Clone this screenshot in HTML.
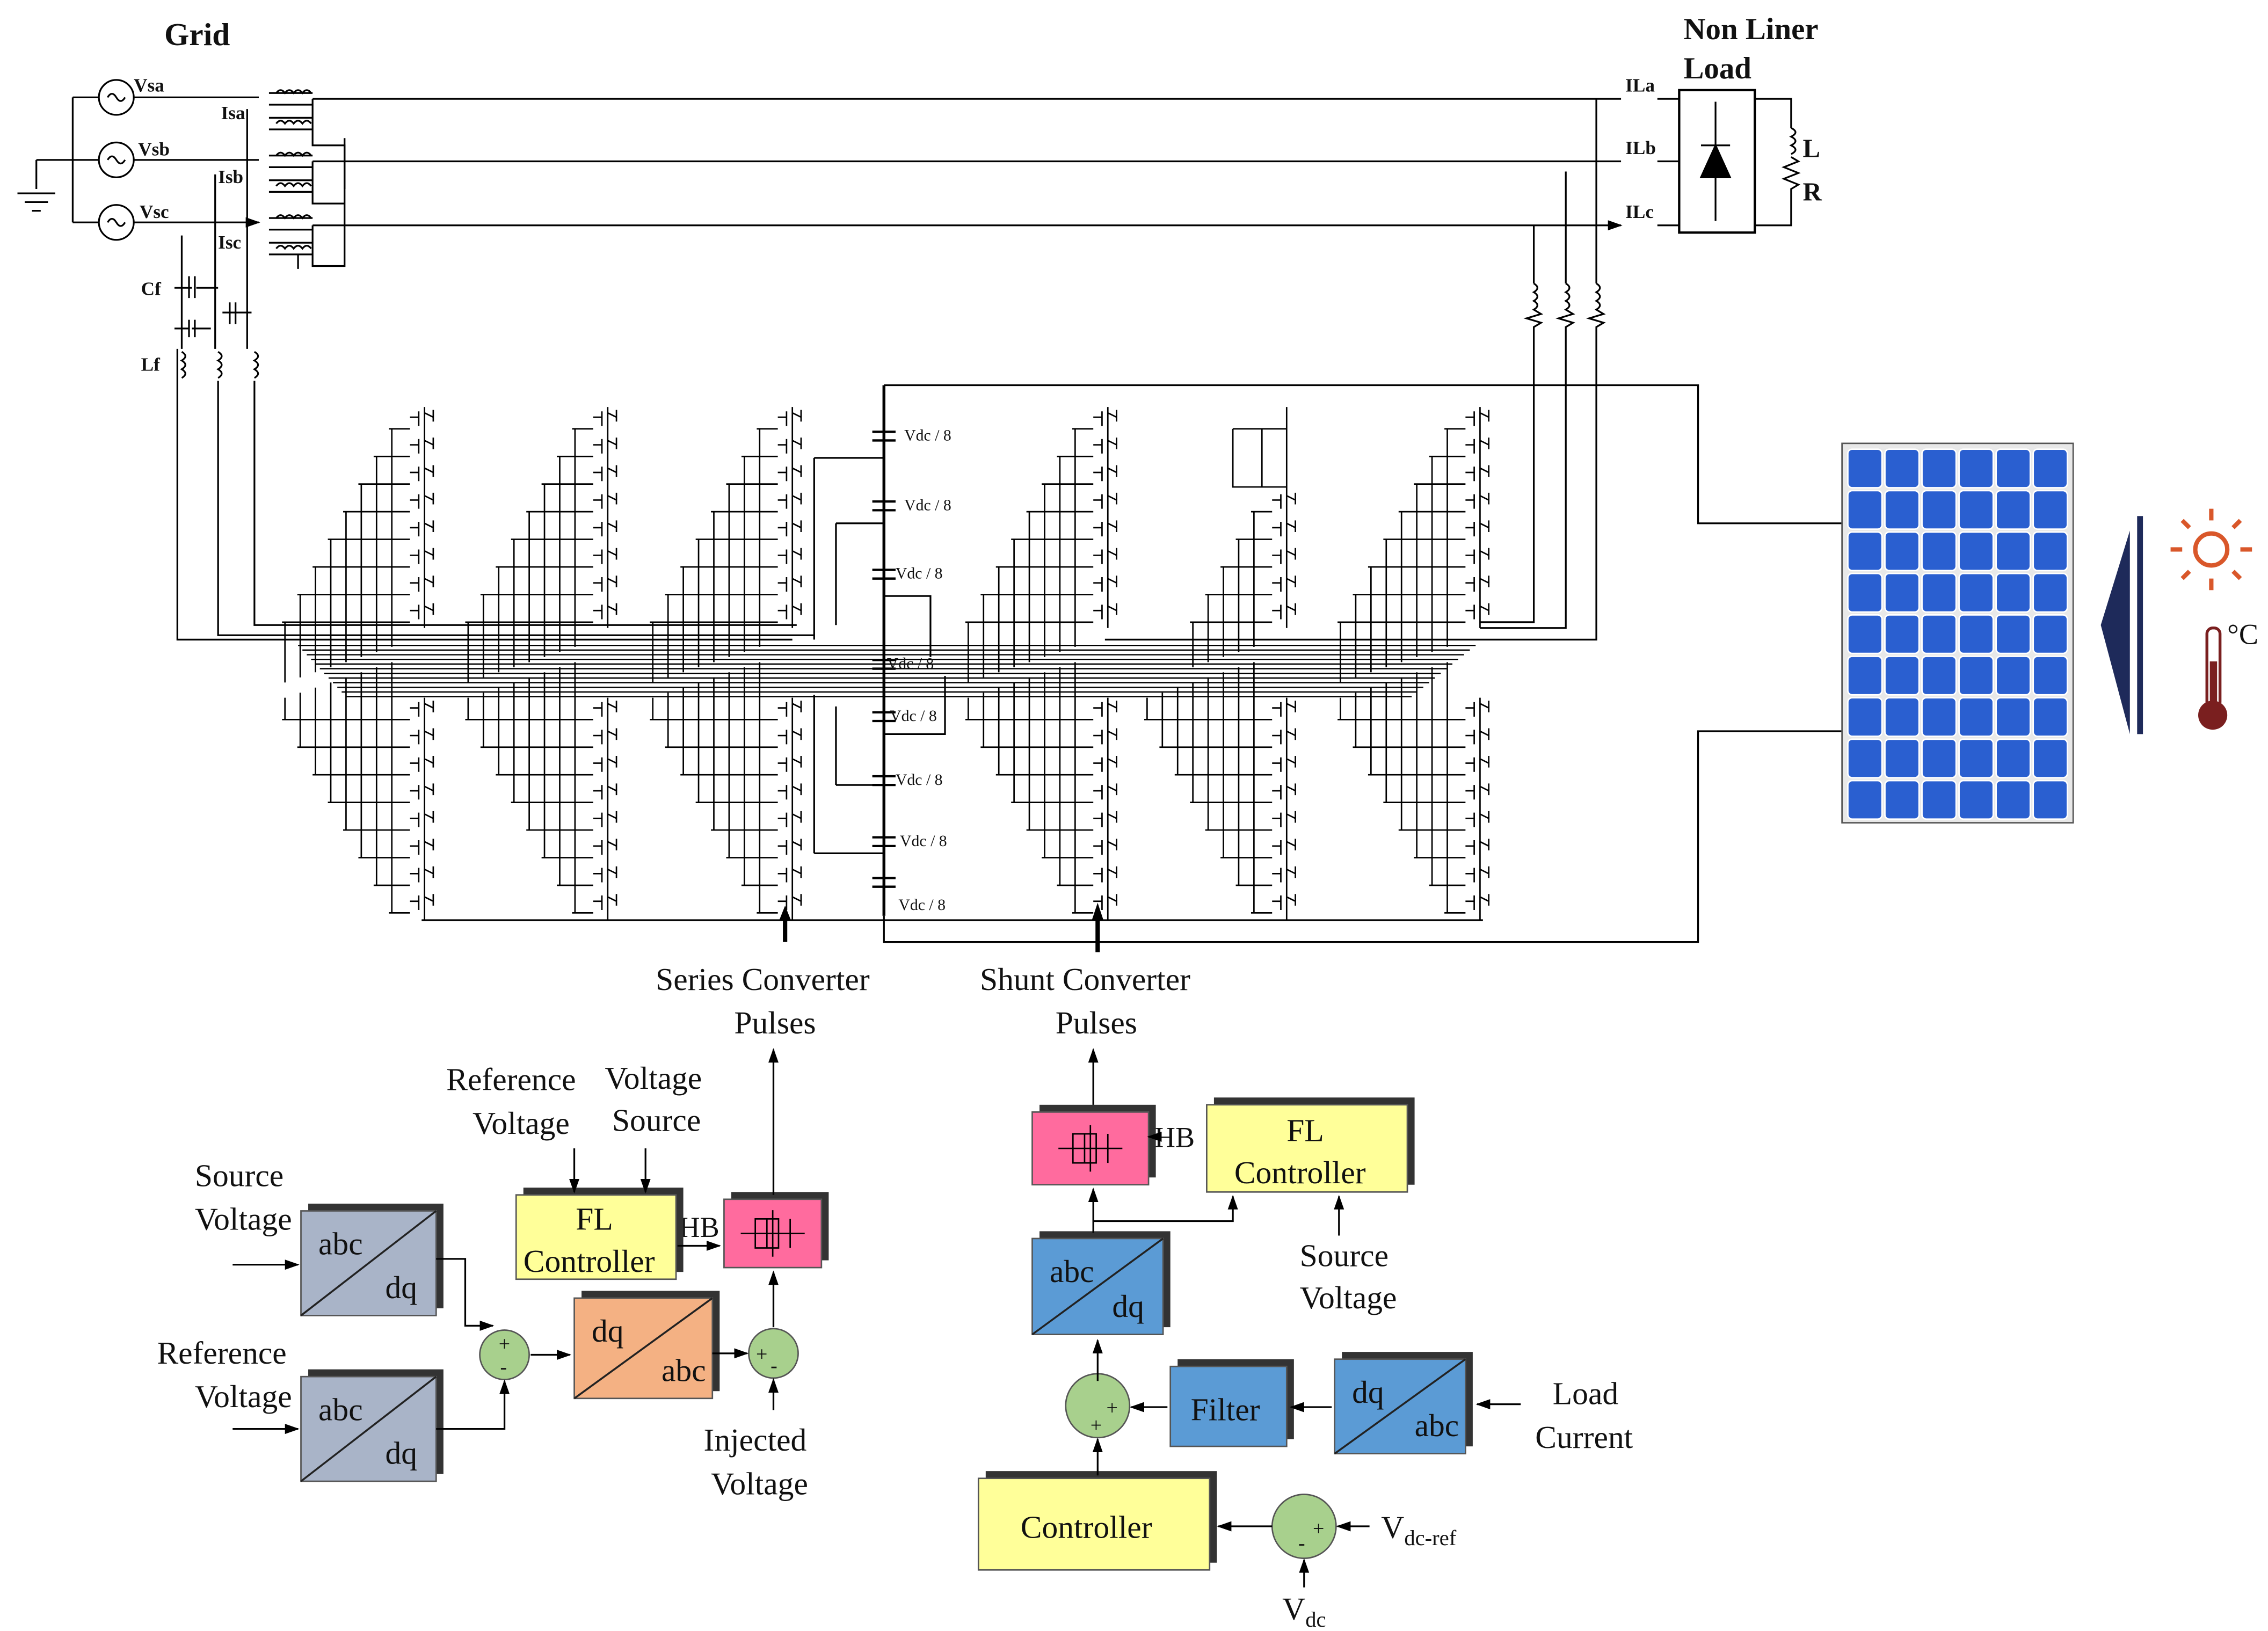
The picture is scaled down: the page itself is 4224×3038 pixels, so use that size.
<!DOCTYPE html>
<html><head><meta charset="utf-8"><style>
html,body{margin:0;padding:0;background:#fff;}
svg{display:block;}
text{font-family:"Liberation Serif",serif;fill:#111;}
</style></head><body>
<svg id="s" width="4224" height="3038" viewBox="0 0 1560 1122" xmlns="http://www.w3.org/2000/svg">
<defs>
<marker id="a" markerWidth="10" markerHeight="10" refX="9" refY="5" orient="auto" markerUnits="userSpaceOnUse"><path d="M0,1.5 L10,5 L0,8.5z" fill="#000"/></marker>
</defs>
<g stroke="#000" stroke-width="1.2" fill="none">
<path d="M50,67 V153 M50,67 H68 M50,110 H68 M50,153 H68 M25,110 H50 M25,110 V130 M12,133 H38 M17,139 H33 M22,145 H28"/>
<circle cx="80" cy="67" r="12"/><circle cx="80" cy="110" r="12"/><circle cx="80" cy="153" r="12"/>
<path d="M74,67 q3,-5 6,0 q3,5 6,0 M74,110 q3,-5 6,0 q3,5 6,0 M74,153 q3,-5 6,0 q3,5 6,0"/>
<path d="M92,67 H178 M92,110 H178 M92,153 H178" marker-end="url(#a)"/>
<path d="M215,68 H1115 M215,111 H1115 M215,155 H1115" marker-end="url(#a)"/>
<path d="M1140,68 H1155 M1140,111 H1155 M1140,155 H1155"/>
<path d="M185,64 h30 M185,72 h30 M185,81 h30 M185,89 h30 M215,68 V100 H237 V130"/>
<path d="M190,64 q3,-4 6,0 q3,-4 6,0 q3,-4 6,0 q3,-4 6,0 M190,85 q3,-4 6,0 q3,-4 6,0 q3,-4 6,0 q3,-4 6,0"/>
<path d="M185,107 h30 M185,115 h30 M185,124 h30 M185,132 h30 M215,111 V140 H237 M185,150 h30 M185,158 h30 M185,167 h30 M185,175 h30 M215,155 V183 H237 V95 M205,175 V185"/>
<path d="M190,107 q3,-4 6,0 q3,-4 6,0 q3,-4 6,0 q3,-4 6,0 M190,128 q3,-4 6,0 q3,-4 6,0 q3,-4 6,0 q3,-4 6,0 M190,150 q3,-4 6,0 q3,-4 6,0 q3,-4 6,0 q3,-4 6,0 M190,171 q3,-4 6,0 q3,-4 6,0 q3,-4 6,0 q3,-4 6,0"/>
<path d="M170,75 V240 M148,120 V240 M125,162 V240 M122,240 V440 H545 M150,262 V437 H560 M175,262 V430 H548"/>
<path d="M120,198 h12 M135,198 h15 M120,226 h10 M132,226 h13 M153,215 h20 M130,190 v15 M134,190 v15 M130,220 v12 M134,220 v12 M158,208 v15 M162,208 v15"/>
<path d="M125,242 q5,3 0,6 q5,3 0,6 q5,3 0,6 M150,242 q5,3 0,6 q5,3 0,6 q5,3 0,6 M175,242 q5,3 0,6 q5,3 0,6 q5,3 0,6"/>
<rect x="1155" y="62" width="52" height="98" stroke-width="1.6"/>
<path d="M1180,70 V152 M1170,100 H1190 M1170,122 H1190 L1180,100 Z" fill="#000"/>
<path d="M1207,68 H1232 V88 M1232,88 q6,3 0,6 q6,3 0,6 q6,3 0,6 M1232,108 l5,3 -10,4 10,4 -10,4 10,4 -5,3 V155 H1207"/>
<path d="M1055,155 V195 M1077,118 V195 M1098,68 V195"/>
<path d="M1055,195 q5,3 0,6 q5,3 0,6 q5,3 0,6 l5,3 -10,3 10,3 -5,3 V428 H1018 M1077,195 q5,3 0,6 q5,3 0,6 q5,3 0,6 l5,3 -10,3 10,3 -5,3 V432 H1018 M1098,195 q5,3 0,6 q5,3 0,6 q5,3 0,6 l5,3 -10,3 10,3 -5,3 V440 H760"/>
<path d="M608,265 V630" stroke-width="2"/>
<path d="M608,265 H1168 V360 H1268 M1268,503 H1168 V648 H608 V630"/>
<path d="M290,633 H1020 M540,645 V630 M755,655 V630" />
<path d="M560,315 H608 M575,360 H608 M560,587 H608 M575,540 H608 M560,315 V440 M575,360 V430 M560,587 V478 M575,540 V486 M608,410 H640 V452 M608,505 H650 V465"/>
<path d="M600,297 h16 M600,303 h16 M600,345 h16 M600,351 h16 M600,392 h16 M600,398 h16 M600,454 h16 M600,460 h16 M600,490 h16 M600,496 h16 M600,534 h16 M600,540 h16 M600,576 h16 M600,582 h16 M600,604 h16 M600,610 h16" stroke-width="1.6"/>
</g>
<path d="M536,633 l4,-10 4,10z M751,633 l4,-12 4,12z" fill="#000"/>
<path d="M540,632 V648 M755,632 V655" stroke="#000" stroke-width="3"/>
<g id="lad" stroke="#000" stroke-width="1" fill="none"></g>
<g font-size="11" font-family="Liberation Serif">
<text x="622" y="303">Vdc / 8</text><text x="622" y="351">Vdc / 8</text><text x="616" y="398">Vdc / 8</text>
<text x="610" y="460">Vdc / 8</text><text x="612" y="496">Vdc / 8</text><text x="616" y="540">Vdc / 8</text>
<text x="619" y="582">Vdc / 8</text><text x="618" y="626">Vdc / 8</text>
</g>
<g font-weight="bold" font-size="13">
<text x="92" y="63">Vsa</text><text x="95" y="107">Vsb</text><text x="96" y="150">Vsc</text>
<text x="152" y="82">Isa</text><text x="150" y="126">Isb</text><text x="150" y="171">Isc</text>
<text x="97" y="203">Cf</text><text x="97" y="255">Lf</text>
<text x="1118" y="63">ILa</text><text x="1118" y="106">ILb</text><text x="1118" y="150">ILc</text>
<text x="1240" y="108" font-size="18">L</text><text x="1240" y="138" font-size="18">R</text>
</g>
<text x="113" y="31" font-size="22" font-weight="bold">Grid</text>
<text x="1158" y="27" font-size="21" font-weight="bold">Non Liner</text>
<text x="1158" y="54" font-size="21" font-weight="bold">Load</text>
<rect x="1267" y="305" width="159" height="261" fill="#e8e8e8" stroke="#555"/>
<g id="pv"></g>
<path d="M1445,430 L1465,365 V505 Z" fill="#1e2a5a"/>
<path d="M1472,355 V505" stroke="#1e2a5a" stroke-width="4"/>
<g stroke="#d9572a" stroke-width="3" fill="none">
<circle cx="1521" cy="378" r="11"/>
<path d="M1521,350 v8 M1521,398 v8 M1493,378 h8 M1541,378 h8 M1501,358 l5,5 M1536,393 l5,5 M1541,358 l-5,5 M1501,398 l5,-5"/>
</g>
<rect x="1518" y="432" width="9" height="55" rx="4" fill="#fff" stroke="#7a1f1f" stroke-width="2"/>
<rect x="1520" y="455" width="5" height="35" fill="#7a1f1f"/>
<circle cx="1522" cy="492" r="10" fill="#7a1f1f"/>
<text x="1532" y="443" font-size="20" fill="#7a1f1f">°C</text>
<g font-size="22">
<text x="451" y="681">Series Converter</text><text x="505" y="711">Pulses</text>
<text x="674" y="681">Shunt Converter</text><text x="726" y="711">Pulses</text>
<text x="307" y="750">Reference</text><text x="325" y="780">Voltage</text>
<text x="416" y="749">Voltage</text><text x="421" y="778">Source</text>
<text x="134" y="816">Source</text><text x="134" y="846">Voltage</text>
<text x="108" y="938">Reference</text><text x="134" y="968">Voltage</text>
<text x="484" y="998">Injected</text><text x="489" y="1028">Voltage</text>
<text x="894" y="871">Source</text><text x="894" y="900">Voltage</text>
<text x="1068" y="966">Load</text><text x="1056" y="996">Current</text>
<text x="467" y="851" font-size="20">HB</text><text x="794" y="789" font-size="20">HB</text>
<text x="950" y="1058">V<tspan font-size="15" dy="5">dc-ref</tspan></text>
<text x="882" y="1114">V<tspan font-size="15" dy="5">dc</tspan></text>
</g>
<g id="blk"></g>
<g stroke="#000" stroke-width="1.2" fill="none" marker-end="url(#a)">
<path d="M160,870 H205"/><path d="M160,983 H205"/><path d="M300,866 H320 V912 H339"/><path d="M300,983 H347 V950"/>
<path d="M365,932 H392"/><path d="M490,931 H514"/><path d="M532,970 V949"/><path d="M532,913 V875"/><path d="M532,822 V722"/>
<path d="M395,790 V820"/><path d="M444,790 V820"/><path d="M466,857 H495"/><path d="M752,760 V722"/><path d="M752,848 V818"/>
<path d="M752,840 H848 V823"/><path d="M921,850 V823"/><path d="M795,782 H790"/><path d="M755,950 V922"/><path d="M803,968 H778"/>
<path d="M916,968 H888"/><path d="M1046,966 H1016"/><path d="M755,1015 V990"/><path d="M875,1050 H838"/><path d="M942,1050 H920"/><path d="M897,1092 V1073"/>
</g>
</svg>
<script>
var NS="http://www.w3.org/2000/svg";
function el(p,t,a){var e=document.createElementNS(NS,t);for(var k in a)e.setAttribute(k,a[k]);p.appendChild(e);return e;}
var L=document.getElementById("lad");
var groups=[292,418,545,762,885,1018];
groups.forEach(function(R,g){
  var d="";
  for(var h=0;h<2;h++){
    var n=(g==4&&h==0)?5:8;
    for(var k=0;k<n;k++){
      var y=(h==0?287:487)+k*19;
      if(g==4&&h==0) y=287+(k+3)*19;
      d+="M"+R+","+(y-6)+" v14 M"+(R-4)+","+(y-4)+" v10 M"+(R-4)+","+y+" h-6 M"+R+","+(y-3)+" l6,3 M"+(R+6)+","+(y+3)+" v-8 ";
      var x;
      if(h==0){ x=R-12-(k+1)*10.5; d+="M"+(R-10)+","+(y+8)+" H"+x+" V"+(445+k*3.5)+" "; }
      else { x=R-12-(8-k)*10.5; d+="M"+(R-10)+","+(y+8)+" H"+x+" V"+(480-k*3.5)+" "; }
      d+="M"+(x-2)+","+(y+8)+" h4 ";
    }
    d+="M"+R+","+(h==0?280:480)+" V"+(h==0?432:633)+" ";
  }
  if(g==4) d+="M848,295 V335 H885 M868,295 V335 M848,295 H885 ";
  el(L,"path",{d:d});
});
var hd="";
for(var i=0;i<12;i++){var y=444+i*3.2;hd+="M"+(205+i*3)+","+y+" H"+(1015-i*4)+" ";}
el(L,"path",{d:hd,"stroke-width":"0.9"});
var P=document.getElementById("pv");
for(var r=0;r<9;r++)for(var c=0;c<6;c++){
  el(P,"rect",{x:1271+c*25.5,y:309+r*28.5,width:23.5,height:26.5,rx:3,fill:"#2a5fd0",stroke:"#fff","stroke-width":"1"});
}
var B=document.getElementById("blk");
function box(x,y,w,h,fill,shadow){
  if(shadow) el(B,"rect",{x:x+5,y:y-5,width:w,height:h,fill:"#333"});
  el(B,"rect",{x:x,y:y,width:w,height:h,fill:fill,stroke:"#555","stroke-width":"1"});
}
function tx(x,y,s,sz){var t=el(B,"text",{x:x,y:y,"font-size":sz||22});t.textContent=s;}
function conv(x,y,w,h,fill,a,b){box(x,y,w,h,fill,1);el(B,"line",{x1:x,y1:y+h,x2:x+w,y2:y,stroke:"#222","stroke-width":"1.3"});tx(x+12,y+30,a);tx(x+w-35,y+h-12,b);}
conv(207,833,93,72,"#a9b4c8","abc","dq");
conv(207,947,93,72,"#a9b4c8","abc","dq");
conv(395,893,95,69,"#f4b183","dq","abc");
conv(710,852,90,66,"#5b9bd5","abc","dq");
conv(918,935,90,65,"#5b9bd5","dq","abc");
box(355,822,110,58,"#ffff99",1);tx(396,846,"FL");tx(360,875,"Controller");
box(830,760,138,60,"#ffff99",1);tx(885,785,"FL");tx(849,814,"Controller");
box(805,940,80,55,"#5b9bd5",1);tx(819,977,"Filter");
box(673,1017,159,63,"#ffff99",1);tx(702,1058,"Controller");
function hb(x,y,w,h){box(x,y,w,h,"#ff6b9e",1);var cx=x+w/2,cy=y+h/2;
 el(B,"path",{d:"M"+(cx-22)+","+cy+" H"+(cx+22)+" M"+cx+","+(cy-16)+" V"+(cy+16)+" M"+(cx-12)+","+(cy-10)+" H"+(cx+4)+" V"+(cy+10)+" H"+(cx-12)+" Z M"+(cx-4)+","+(cy-10)+" V"+(cy+10)+" M"+(cx-12)+","+(cy-10)+" V"+(cy+10)+" M"+(cx+12)+","+(cy-10)+" V"+(cy+10),stroke:"#000",fill:"none","stroke-width":"1"});}
hb(498,825,67,47);hb(710,765,80,50);
function sum(x,y,r,t,b){el(B,"circle",{cx:x,cy:y,r:r,fill:"#a8d08d",stroke:"#555"});tx(x+t[1],y+t[2],t[0],14);tx(x+b[1],y+b[2],b[0],14);}
sum(347,932,17,["+",-4,-3],["-",-3,13]);
sum(532,931,17,["+",-12,5],["-",-2,13]);
sum(755,967,22,["+",6,6],["+",-5,18]);
sum(897,1050,22,["+",6,6],["-",-4,16]);
</script>
</body></html>
